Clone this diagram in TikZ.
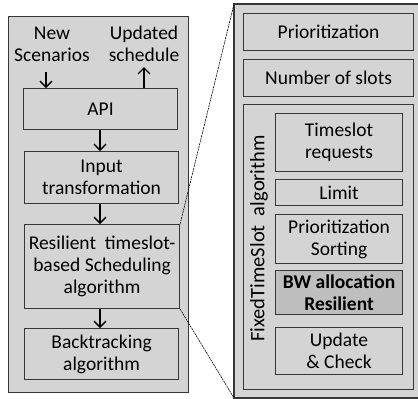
\documentclass[tikz,border=0pt]{standalone}
\usepackage{fontspec}
\setmainfont{Carlito}
\usetikzlibrary{arrows.meta}
\definecolor{boxfill}{RGB}{212,212,212}
\definecolor{bwfill}{RGB}{190,190,190}
\definecolor{edge}{RGB}{55,55,55}
\tikzset{
  px/.style={x=1pt,y=-1pt},
  txt/.style={font=\fontsize{19.5}{22}\selectfont},
  boldtxt/.style={font=\fontsize{19.5}{22}\selectfont\bfseries},
  box/.style={draw=edge, line width=1.1pt, fill=boxfill, inner sep=0pt, anchor=north west, align=center, txt},
  lbl/.style={inner sep=0pt, align=center, txt},
  flow/.style={line width=1.3pt, draw=black, -{Straight Barb[length=6pt,width=12pt,line width=1.3pt]}},
  zoomline/.style={line width=0.6pt, dash pattern=on 2pt off 0.8pt}
}
\begin{document}
\begin{tikzpicture}[px]
\useasboundingbox (0,0) rectangle (418,399);
% left panel
\node[box, minimum width=180pt, minimum height=376pt] (left) at (8,16) {};
\node[lbl] (newsc) at (52,44) {New\\Scenarios};
\node[lbl] (upd) at (144,44) {Updated\\schedule};
\node[box, minimum width=154pt, minimum height=41pt] (api) at (23,88) {API};
\node[box, minimum width=154pt, minimum height=52pt] (input) at (24,151) {Input\\transformation};
\node[box, minimum width=155pt, minimum height=84pt] (res) at (24,224) {Resilient\ \ timeslot-\\based Scheduling\\algorithm};
\node[box, minimum width=154pt, minimum height=51pt] (back) at (24,328) {Backtracking\\algorithm};
\coordinate (nsA) at (46,72);
\coordinate (upB) at (144,67);
\draw[flow] (nsA) -- (nsA |- api.north);
\draw[flow] (upB |- api.north) -- (upB);
\draw[flow] (api.south -| 100,0) -- (input.north -| 100,0);
\draw[flow] (input.south -| 100,0) -- (res.north -| 100,0);
\draw[flow] (res.south -| 100,0) -- (back.north -| 100,0);
% right panel
\fill[boxfill] (234,4) rectangle (418,398);
\coordinate (rnw) at (234,4);
\coordinate (rsw) at (234,398);
\draw[edge, line width=1.1pt] (418,4) -- (rnw) -- (rsw) -- (418,398);
\node[box, minimum width=170pt, minimum height=37pt] (prio) at (243,13) {Prioritization};
\node[box, minimum width=170pt, minimum height=37pt] (nslots) at (243,59) {Number of slots};
\node[box, minimum width=170pt, minimum height=285pt] (fts) at (243,104) {};
\node[lbl, rotate=90, font=\fontsize{20.5}{22}\selectfont] (ftslbl) at (259,238.5) {FixedTimeSlot\ \ algorithm};
\node[box, minimum width=127pt, minimum height=58pt] (tsreq) at (275,113) {Timeslot\\requests};
\node[box, minimum width=127pt, minimum height=26pt] (limit) at (275,179) {Limit};
\node[box, minimum width=127pt, minimum height=49pt] (psort) at (275,214) {Prioritization\\Sorting};
\node[box, fill=bwfill, minimum width=127pt, minimum height=44pt, boldtxt] (bw) at (275,270) {BW allocation\\Resilient};
\node[box, minimum width=127pt, minimum height=47pt] (updchk) at (275,327) {Update\\\& Check};
% zoom lines
\draw[zoomline] (res.north east) -- (rnw);
\draw[zoomline] (res.south east) -- (rsw);
\end{tikzpicture}
\end{document}
